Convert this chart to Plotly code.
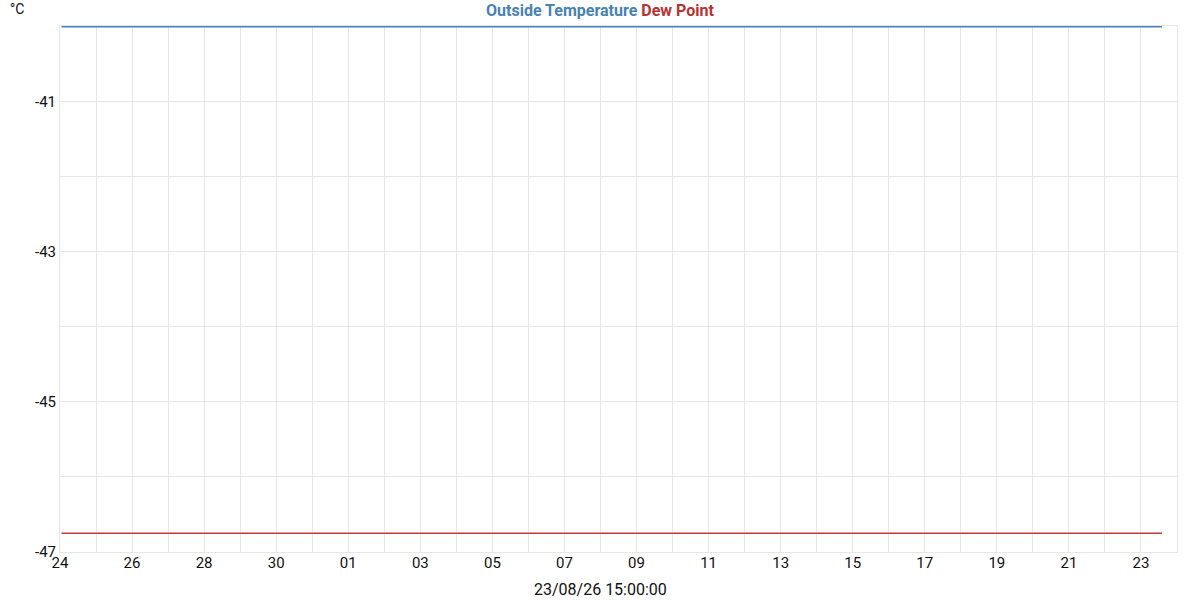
import plotly.graph_objects as go

# Data
times = ["2026-07-24 01:00", "2026-07-28 00:00", "2026-08-01 00:00", "2026-08-05 00:00",
         "2026-08-09 00:00", "2026-08-13 00:00", "2026-08-17 00:00", "2026-08-21 00:00",
         "2026-08-23 14:00"]
outside_temp = [-40.0, -40.0, -40.0, -40.0, -40.0, -40.0, -40.0, -40.0, -40.0]
dew_point = [-46.75, -46.75, -46.75, -46.75, -46.75, -46.75, -46.75, -46.75, -46.75]
y_ticks = [-47, -45, -43, -41]
x_title = "23/08/26 15:00:00"
y_unit = "°C"

BLUE = "#4682b4"
RED = "#b83232"
LINE_RED = "#c03c3c"
GRID = "#e6e6e6"
FONT = "Roboto"
TXT = "#111111"

W, H = 1200, 600
L, R, T, B = 60, 23, 26, 48
PW, PH = W - L - R, H - T - B

fig = go.Figure()
fig.add_trace(go.Scatter(x=times, y=outside_temp, mode="lines", name="Outside Temperature",
                         line=dict(color=BLUE, width=1.5), showlegend=False))
fig.add_trace(go.Scatter(x=times, y=dew_point, mode="lines", name="Dew Point",
                         line=dict(color=LINE_RED, width=1.5), showlegend=False))

fig.update_layout(
    width=W, height=H,
    margin=dict(l=L, r=R, t=T, b=B, autoexpand=False),
    paper_bgcolor="white", plot_bgcolor="white",
    font=dict(family=FONT, size=15, color=TXT),
    title=dict(
        text=f"<b><span style='color:{BLUE}'>Outside Temperature</span> "
             f"<span style='color:{RED}'>Dew Point</span></b>",
        x=0.5, xanchor="center", xref="container", y=1 - 10 / H, yanchor="middle",
        font=dict(family=FONT, size=16),
    ),
    xaxis=dict(
        type="date",
        range=["2026-07-24 00:00", "2026-08-24 00:00"],
        tick0="2026-07-24", dtick=2 * 86400000,
        tickformat="%d",
        showgrid=True, gridcolor=GRID, gridwidth=1,
        minor=dict(dtick=86400000, tick0="2026-07-24", showgrid=True, gridcolor=GRID, gridwidth=1),
        showline=True, linecolor=GRID, linewidth=1, mirror=True, layer="below traces",
        zeroline=False, ticks="", ticklabelstandoff=-3, automargin=False,
        tickfont=dict(family=FONT, size=15, color=TXT),
    ),
    yaxis=dict(
        range=[-47, -39.99],
        tickvals=y_ticks, ticktext=[str(v) for v in y_ticks],
        showgrid=True, gridcolor=GRID, gridwidth=1,
        minor=dict(dtick=1, tick0=-47, showgrid=True, gridcolor=GRID, gridwidth=1),
        showline=True, linecolor=GRID, linewidth=1, mirror=True, layer="below traces",
        zeroline=False, ticks="", automargin=False,
        tickfont=dict(family=FONT, size=15, color=TXT),
    ),
)

# unit label top-left
fig.add_annotation(text=y_unit, xref="paper", yref="paper",
                   x=(17 - L) / PW, y=1 + (T - 9) / PH,
                   xanchor="center", yanchor="middle", showarrow=False,
                   font=dict(family=FONT, size=14, color=TXT))
# x-axis title
fig.add_annotation(text=x_title, xref="paper", yref="paper",
                   x=(600 - L) / PW, y=-(600 - (T + PH)) / PH,
                   xanchor="center", yanchor="bottom", showarrow=False, borderpad=0,
                   font=dict(family=FONT, size=16, color=TXT))

fig.write_html("out.html", config={"displayModeBar": False},
               post_script="document.body.style.margin='0';")
